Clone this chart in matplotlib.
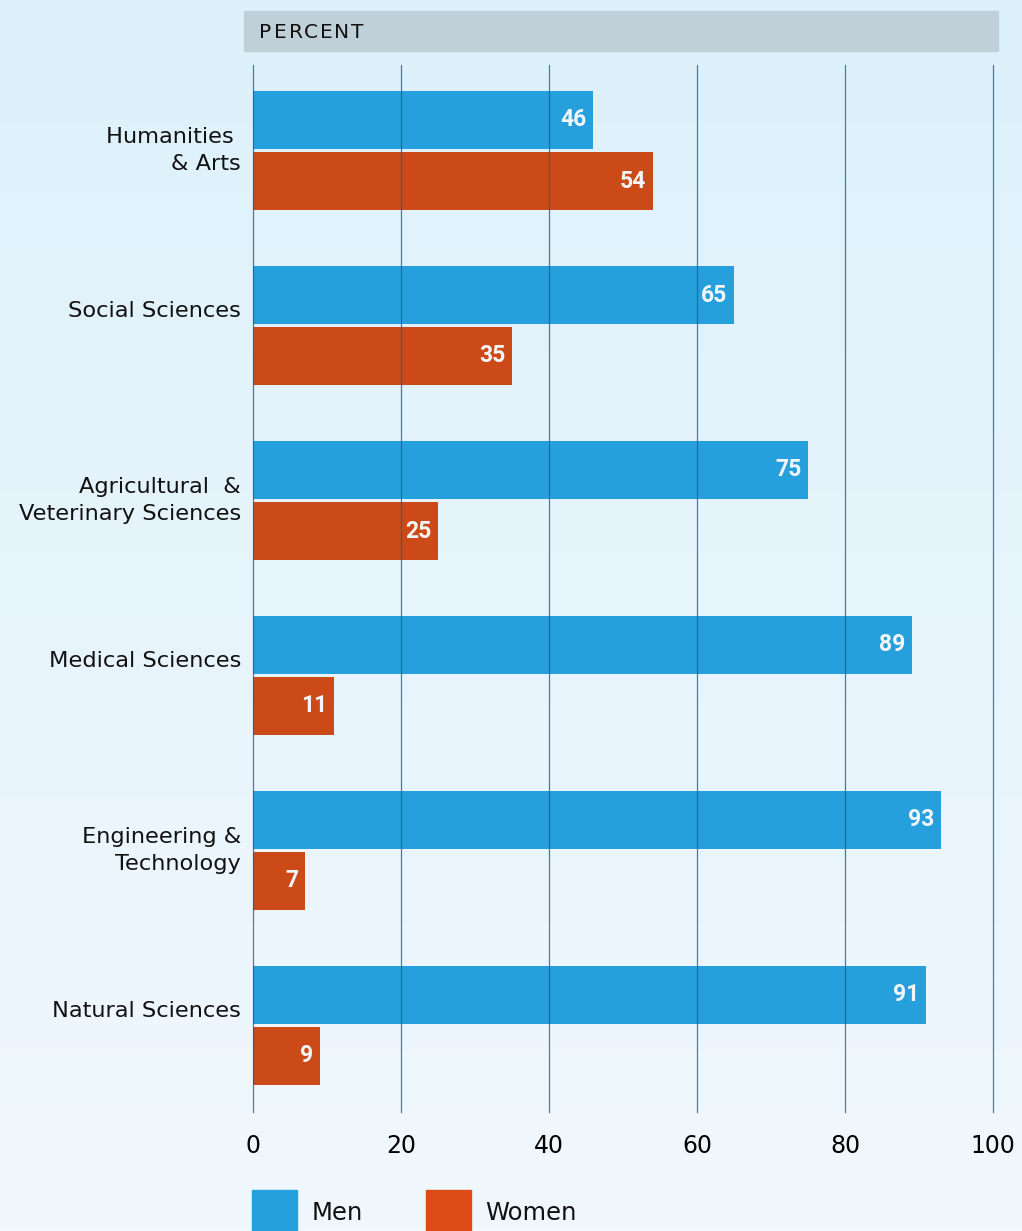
import numpy as np
import matplotlib
matplotlib.use("Agg")
import matplotlib.pyplot as plt
from matplotlib.patches import Rectangle

categories = ["Humanities \n& Arts", "Social Sciences", "Agricultural  &\nVeterinary Sciences",
              "Medical Sciences", "Engineering &\nTechnology", "Natural Sciences"]
men = [46, 65, 75, 89, 93, 91]
women = [54, 35, 25, 11, 7, 9]
ticks = [0, 20, 40, 60, 80, 100]

blue = "#26a0dc"
orange = "#cc4a17"
W, H = 1022, 1231

fig = plt.figure(figsize=(W / 100, H / 100), dpi=100)

# background gradient
bg = fig.add_axes([0, 0, 1, 1], zorder=-10)
grad = np.linspace(0, 1, 256).reshape(-1, 1)
top = np.array([0xdd, 0xf1, 0xfb]) / 255
bot = np.array([0xf1, 0xf8, 0xfd]) / 255
img = top + (bot - top) * grad[:, :, None]
bg.imshow(img, aspect="auto", extent=[0, 1, 0, 1])
bg.axis("off")

# header strip
fig.patches.append(Rectangle((244 / W, 1 - 51 / H), 754 / W, 40 / H,
                             transform=fig.transFigure, color="#bfd0d8", zorder=1))
for i, ch in enumerate("PERCENT"):
    fig.text((265 + i * 15.4) / W, 1 - 32 / H, ch, ha="center", va="center",
             fontsize=14.5, color="#111111", family="DejaVu Sans")

ax = fig.add_axes([253 / W, 1 - 1112 / H, 740 / W, (1112 - 65) / H])
ax.set_facecolor("none")
y = np.arange(len(categories))
off = 30.5 / 175
h = 58 / 175
ax.barh(y - off, men, height=h, color=blue, zorder=2)
ax.barh(y + off, women, height=h, color=orange, zorder=2)
for v, yy in zip(men, y - off):
    ax.text(v - 0.9, yy, str(v), ha="right", va="center", color="#f2f6f8",
            fontsize=16.5, fontweight="bold", family="Roboto", zorder=4)
for v, yy in zip(women, y + off):
    ax.text(v - 0.9, yy, str(v), ha="right", va="center", color="#f2f6f8",
            fontsize=16.5, fontweight="bold", family="Roboto", zorder=4)

for t in ticks:
    ax.axvline(t, color="#1a5f9a", lw=0.9, alpha=0.8, zorder=3, clip_on=False)

ax.set_xlim(0, 100)
ax.set_ylim((1112 - 150.5) / 175, (65 - 150.5) / 175)
ax.set_xticks(ticks)
ax.set_xticklabels([str(t) for t in ticks], fontsize=17, family="DejaVu Sans")
ax.tick_params(axis="x", length=0, pad=16)
ax.set_yticks([])

# category labels: single-line labels sit a bit above the group centre
for yy, lab in zip(y, categories):
    shift = 0 if "\n" in lab else -14.5 / 175
    ax.text(-12 / 7.4, yy + shift, lab, ha="right", va="center", fontsize=16.2,
            family="DejaVu Sans", color="#111111", linespacing=1.45, clip_on=False)
for s in ax.spines.values():
    s.set_visible(False)

# legend
for x0, col, lab, tx in [(252, blue, "Men", 312), (426, "#dd4b18", "Women", 485)]:
    fig.patches.append(Rectangle((x0 / W, -5 / H), 45 / W, 46 / H,
                                 transform=fig.transFigure, color=col))
    fig.text(tx / W, 1 - 1213 / H, lab, ha="left", va="center", fontsize=17.5,
             family="DejaVu Sans", color="#111111")

fig.savefig("out.png", dpi=100)
